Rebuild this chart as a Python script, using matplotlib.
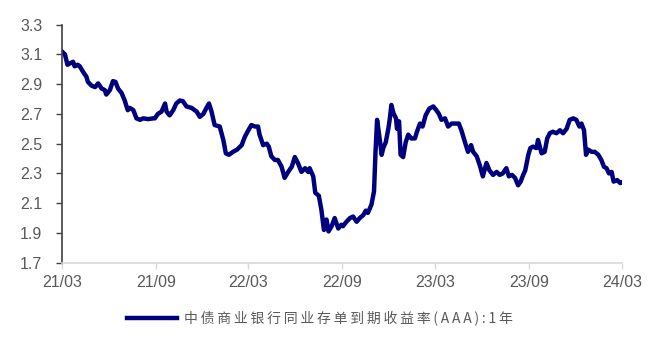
import pandas as pd
import matplotlib.pyplot as plt
import matplotlib.dates as mdates

plt.rcParams['font.family'] = ['Liberation Sans', 'Noto Sans CJK SC', 'DejaVu Sans']

dates = [
    '2021-03-01', '2021-03-07', '2021-03-12', '2021-03-17', '2021-03-23', '2021-03-26',
    '2021-04-01', '2021-04-05', '2021-04-12', '2021-04-18', '2021-04-21', '2021-04-28',
    '2021-05-05', '2021-05-11', '2021-05-18', '2021-05-24', '2021-05-27', '2021-06-03',
    '2021-06-09', '2021-06-14', '2021-06-19', '2021-06-26', '2021-07-02', '2021-07-08',
    '2021-07-12', '2021-07-19', '2021-07-25', '2021-08-01', '2021-08-07', '2021-08-17',
    '2021-08-27', '2021-08-30', '2021-09-05', '2021-09-12', '2021-09-19', '2021-09-22',
    '2021-09-28', '2021-10-05', '2021-10-11', '2021-10-18', '2021-10-24', '2021-10-31',
    '2021-11-10', '2021-11-20', '2021-11-26', '2021-12-03', '2021-12-09', '2021-12-14',
    '2021-12-19', '2021-12-25', '2022-01-04', '2022-01-11', '2022-01-16', '2022-01-22',
    '2022-01-30', '2022-02-07', '2022-02-16', '2022-02-22', '2022-03-01', '2022-03-07',
    '2022-03-14', '2022-03-20', '2022-03-23', '2022-03-30', '2022-04-06', '2022-04-10',
    '2022-04-15', '2022-04-22', '2022-04-28', '2022-05-05', '2022-05-11', '2022-05-18',
    '2022-05-25', '2022-05-31', '2022-06-06', '2022-06-13', '2022-06-20', '2022-06-26',
    '2022-06-29', '2022-07-06', '2022-07-10', '2022-07-17', '2022-07-22', '2022-07-27',
    '2022-08-01', '2022-08-05', '2022-08-11', '2022-08-17', '2022-08-24', '2022-08-30',
    '2022-09-02', '2022-09-09', '2022-09-16', '2022-09-22', '2022-09-29', '2022-10-05',
    '2022-10-12', '2022-10-17', '2022-10-21', '2022-10-28', '2022-11-02', '2022-11-05',
    '2022-11-08', '2022-11-12', '2022-11-17', '2022-11-20', '2022-11-25', '2022-11-30',
    '2022-12-03', '2022-12-06', '2022-12-10', '2022-12-15', '2022-12-17', '2022-12-21',
    '2022-12-24', '2022-12-29', '2023-01-03', '2023-01-08', '2023-01-14', '2023-01-21',
    '2023-01-25', '2023-01-31', '2023-02-05', '2023-02-11', '2023-02-18', '2023-02-26',
    '2023-03-04', '2023-03-09', '2023-03-14', '2023-03-21', '2023-03-27', '2023-04-03',
    '2023-04-09', '2023-04-17', '2023-04-22', '2023-04-29', '2023-05-05', '2023-05-11',
    '2023-05-15', '2023-05-22', '2023-05-28', '2023-06-03', '2023-06-10', '2023-06-16',
    '2023-06-23', '2023-06-30', '2023-07-06', '2023-07-12', '2023-07-19', '2023-07-24',
    '2023-07-30', '2023-08-05', '2023-08-11', '2023-08-16', '2023-08-21', '2023-08-25',
    '2023-08-31', '2023-09-04', '2023-09-09', '2023-09-16', '2023-09-19', '2023-09-26',
    '2023-10-02', '2023-10-07', '2023-10-12', '2023-10-18', '2023-10-25', '2023-11-01',
    '2023-11-07', '2023-11-14', '2023-11-20', '2023-11-27', '2023-12-03', '2023-12-09',
    '2023-12-13', '2023-12-18', '2023-12-22', '2023-12-26', '2024-01-02', '2024-01-08',
    '2024-01-15', '2024-01-21', '2024-01-26', '2024-01-31', '2024-02-05', '2024-02-10',
    '2024-02-14', '2024-02-21', '2024-02-27', '2024-03-01',
]
yields = [
    3.12, 3.10, 3.03, 3.04, 3.05, 3.02,
    3.03, 3.02, 2.98, 2.95, 2.915, 2.89,
    2.88, 2.905, 2.87, 2.86, 2.83, 2.86,
    2.92, 2.915, 2.87, 2.84, 2.79, 2.725,
    2.74, 2.725, 2.67, 2.66, 2.67, 2.665,
    2.67, 2.67, 2.70, 2.715, 2.77, 2.715,
    2.69, 2.725, 2.77, 2.79, 2.785, 2.75,
    2.74, 2.715, 2.68, 2.70, 2.74, 2.77,
    2.715, 2.625, 2.615, 2.525, 2.435, 2.425,
    2.445, 2.46, 2.49, 2.545, 2.59, 2.625,
    2.615, 2.615, 2.56, 2.49, 2.50, 2.48,
    2.415, 2.39, 2.39, 2.345, 2.27, 2.31,
    2.345, 2.41, 2.37, 2.31, 2.335, 2.31,
    2.335, 2.28, 2.17, 2.15, 2.055, 1.92,
    1.99, 1.91, 1.945, 2.00, 1.93, 1.955,
    1.945, 1.975, 2.00, 2.01, 1.975, 2.00,
    2.02, 2.05, 2.035, 2.09, 2.18, 2.45,
    2.66, 2.56, 2.425, 2.47, 2.51, 2.60,
    2.67, 2.76, 2.705, 2.67, 2.60, 2.65,
    2.425, 2.41, 2.51, 2.56, 2.535, 2.535,
    2.58, 2.635, 2.615, 2.69, 2.735, 2.75,
    2.725, 2.70, 2.66, 2.67, 2.615, 2.635,
    2.635, 2.635, 2.59, 2.51, 2.445, 2.49,
    2.445, 2.415, 2.355, 2.28, 2.37, 2.32,
    2.29, 2.31, 2.29, 2.30, 2.335, 2.28,
    2.29, 2.27, 2.22, 2.245, 2.29, 2.32,
    2.425, 2.47, 2.48, 2.47, 2.525, 2.435,
    2.445, 2.535, 2.57, 2.58, 2.57, 2.59,
    2.57, 2.60, 2.66, 2.67, 2.66, 2.615,
    2.635, 2.59, 2.425, 2.46, 2.445, 2.445,
    2.425, 2.39, 2.345, 2.335, 2.30, 2.31,
    2.245, 2.255, 2.235, 2.24,
]
series_name = '中债商业银行同业存单到期收益率(AAA):1年'
x_ticks = pd.date_range('2021-03-01', '2024-03-01', freq='6MS')
y_ticks = [1.7, 1.9, 2.1, 2.3, 2.5, 2.7, 2.9, 3.1, 3.3]

navy = '#00007f'
grey_text = '#595959'

fig = plt.figure(figsize=(6.58, 3.37), dpi=100)
ax = fig.add_axes([0.094, 0.2205, 0.851, 0.7065])

# spaced-out legend label, thin space between characters
spaced = '\u2009'.join(series_name)
ax.plot(pd.to_datetime(dates), yields, color=navy, lw=3.2,
        solid_joinstyle='round', label=spaced)

ax.set_xlim(pd.Timestamp('2021-03-01'), pd.Timestamp('2024-03-01'))
ax.set_ylim(1.7, 3.3)
ax.set_yticks(y_ticks)
ax.set_yticklabels([f'{v:.1f}' for v in y_ticks])
ax.set_xticks(x_ticks)
ax.xaxis.set_major_formatter(mdates.DateFormatter('%y/%m'))

for side in ['top', 'right']:
    ax.spines[side].set_visible(False)
ax.spines['left'].set_color('#404040')
ax.spines['left'].set_linewidth(1.2)
ax.spines['bottom'].set_color('#d9d9d9')
ax.spines['bottom'].set_linewidth(1.2)

ax.tick_params(axis='y', direction='out', length=4, width=1.0, color='#404040',
               labelsize=11.5, labelcolor=grey_text, pad=10)
ax.tick_params(axis='x', direction='out', length=4, width=1.0, color='#d9d9d9',
               labelsize=11.5, labelcolor=grey_text, pad=5)

leg = fig.legend(loc='lower center', bbox_to_anchor=(0.486, -0.005), frameon=False,
                 handlelength=3.6, handletextpad=0.55,
                 prop={'family': ['Noto Sans CJK SC', 'DejaVu Sans'], 'size': 10})
for t in leg.get_texts():
    t.set_color(grey_text)
for h in leg.legend_handles:
    h.set_linewidth(3.2)

fig.savefig('out.png', dpi=100)
